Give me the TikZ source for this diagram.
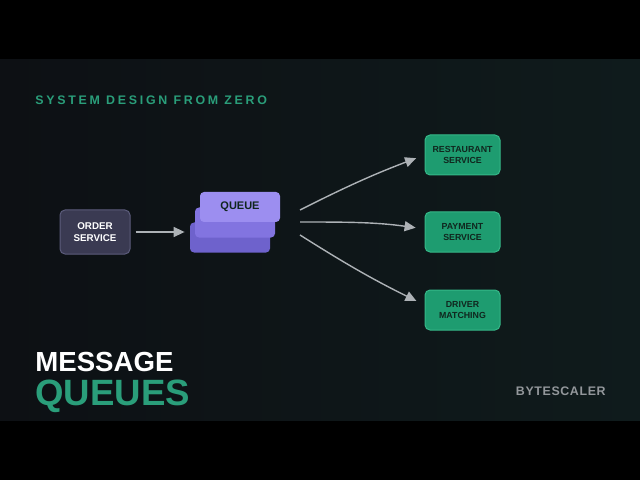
\documentclass[tikz,border=0pt]{standalone}
\usepackage{fontspec}
\setmainfont{Liberation Sans}
\usetikzlibrary{arrows.meta}
\pgfdeclarelayer{edgelayer}
\pgfdeclarelayer{nodelayer}
\pgfsetlayers{main,edgelayer,nodelayer}
\definecolor{bgleft}{HTML}{0D1014}
\definecolor{bgright}{HTML}{0F1B1C}
\definecolor{teal}{HTML}{2A9E7A}
\definecolor{arrowgray}{HTML}{ADB2B6}
\definecolor{orderfill}{HTML}{3A3A52}
\definecolor{orderline}{HTML}{5C5C7C}
\definecolor{qfront}{HTML}{9C8EF0}
\definecolor{qmid}{HTML}{8274E0}
\definecolor{qback}{HTML}{6E62CC}
\definecolor{svcfill}{HTML}{1E9C70}
\definecolor{svcline}{HTML}{35B888}
\definecolor{svctext}{HTML}{10261E}
\tikzstyle{edge}=[draw=arrowgray, line width=0.7pt, -{Triangle[length=5.5pt,width=5pt]}]
\tikzstyle{order}=[rectangle, rounded corners=2.5pt, fill=orderfill, draw=orderline, line width=0.5pt, minimum width=35pt, minimum height=22pt, text=white, font=\bfseries\fontsize{4.9}{6}\selectfont, align=center]
\tikzstyle{layer}=[rectangle, rounded corners=2pt, draw=none, minimum width=40pt, minimum height=15pt]
\tikzstyle{service}=[rectangle, rounded corners=2.5pt, fill=svcfill, draw=svcline, line width=0.5pt, minimum width=37.5pt, minimum height=20pt, text=svctext, font=\bfseries\fontsize{4.4}{5.8}\selectfont, align=center]
\tikzstyle{caption}=[inner sep=0pt]

\begin{document}
\begin{tikzpicture}[x=0.5pt, y=-0.5pt]
				\useasboundingbox (0, 0) rectangle (640, 480);
				\fill [black] (0, 0) rectangle (640, 480);
				\shade [left color=bgleft, right color=bgright] (0, 60) rectangle (640, 420);
				\begin{pgfonlayer}{nodelayer}
					\node [style=caption, anchor=west, text=teal, font=\bfseries\fontsize{6.2}{7}\selectfont\addfontfeatures{LetterSpace=22}] (title) at (35, 100) {SYSTEM DESIGN FROM ZERO};
					\node [style=order] (order) at (95, 232) {ORDER\\SERVICE};
					\node [style=layer, fill=qback] (qback) at (230, 237.5) {};
					\node [style=layer, fill=qmid] (qmid) at (235, 222.5) {};
					\node [style=layer, fill=qfront, text=svctext, font=\bfseries\fontsize{5.5}{6}\selectfont] (qfront) at (240, 207) {QUEUE};
					\node [style=service] (rest) at (462.5, 155) {RESTAURANT\\SERVICE};
					\node [style=service] (pay) at (462.5, 232) {PAYMENT\\SERVICE};
					\node [style=service] (driver) at (462.5, 310) {DRIVER\\MATCHING};
					\node [style=caption, anchor=base west, text=white, font=\bfseries\fontsize{13.8}{14}\selectfont] (msg) at (35, 371) {MESSAGE};
					\node [style=caption, anchor=base west, text=teal, font=\bfseries\fontsize{18.3}{18}\selectfont] (queues) at (35, 405) {QUEUES};
					\node [style=caption, anchor=base east, text=arrowgray!85!black, font=\bfseries\fontsize{6.2}{7}\selectfont\addfontfeatures{LetterSpace=5}] (brand) at (606, 395) {BYTESCALER};
				\end{pgfonlayer}
				\coordinate (s1) at (300, 210);
				\coordinate (s2) at (300, 222);
				\coordinate (s3) at (300, 235);
				\begin{pgfonlayer}{edgelayer}
					\draw [style=edge, shorten <=2.5pt, shorten >=2.5pt] (order.east) to (order.east -| qback.west);
					\draw [style=edge, shorten >=4.5pt, bend left=3] (s1) to (rest.west);
					\draw [style=edge, shorten >=4.5pt, out=0, in=172] (s2) to ([yshift=1.5pt]pay.west);
					\draw [style=edge, shorten >=4.5pt, bend right=3] (s3) to ([yshift=2.5pt]driver.west);
				\end{pgfonlayer}
			\end{tikzpicture}
\end{document}
